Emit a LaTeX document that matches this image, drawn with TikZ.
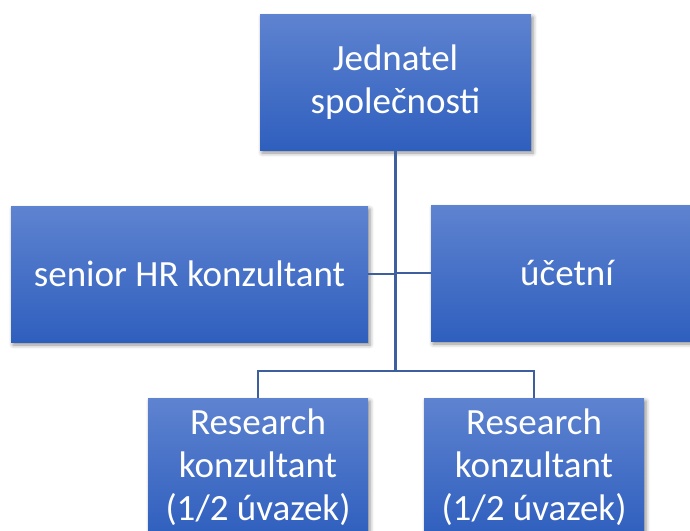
\documentclass[tikz,border=0pt]{standalone}
\usepackage{fontspec}
\setmainfont{Carlito}
\usetikzlibrary{shadows.blur}
\definecolor{boxtop}{RGB}{94,131,208}
\definecolor{boxbot}{RGB}{47,95,190}
\definecolor{conn}{RGB}{62,95,158}
\tikzset{
  orgbox/.style={draw=none, top color=boxtop, bottom color=boxbot, text=white,
    align=center, inner sep=0pt, font=\fontsize{37}{43}\selectfont,
    blur shadow={shadow xshift=2pt, shadow yshift=-3pt, shadow blur radius=4pt, shadow opacity=45}},
  link/.style={draw=conn, line width=2.2pt}
}
\begin{document}
\begin{tikzpicture}[x=1pt,y=-1pt]
\useasboundingbox (0,0) rectangle (690,530);
\node[orgbox, minimum width=271pt, minimum height=136pt] (top) at (395.5,82) {Jednatel\\společnosti};
\node[orgbox, minimum width=357pt, minimum height=136pt] (left) at (189.5,274) {senior HR konzultant};
\node[orgbox, minimum width=272pt, minimum height=136pt] (right) at (567,273) {účetní};
\node[orgbox, minimum width=220pt, minimum height=138pt] (bl) at (258,467) {Research\\konzultant\\(1/2 úvazek)};
\node[orgbox, minimum width=220pt, minimum height=138pt] (br) at (534,467) {Research\\konzultant\\(1/2 úvazek)};
\coordinate (bus) at (395.5,371);
\draw[link] (top.south) -- (bus);
\draw[link] (left.east) -- (left.east -| bus);
\draw[link] (right.west) -- (right.west -| bus);
\draw[link] (bl.north) |- (bus) -| (br.north);
\end{tikzpicture}
\end{document}
